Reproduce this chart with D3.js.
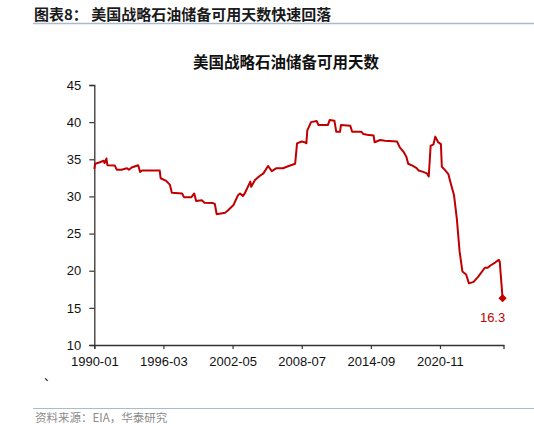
<!DOCTYPE html>
<html>
<head>
<meta charset="utf-8">
<script src="https://cdn.jsdelivr.net/npm/d3@7"></script>
<style>
  body { margin: 0; background: #fff; }
  svg { display: block; }
</style>
</head>
<body>
<svg></svg>
<script>
// 美国战略石油储备可用天数 (category axis, one step per period)

// tick labels sit every 74 periods
const tickLabels = ['1990-01', '1996-03', '2002-05', '2008-07', '2014-09', '2020-11'];
const tickIdx = [0, 74, 148, 222, 296, 370];
const LAST_IDX = 438;

// period index of each read-off point
const pointIdx = [0, 1, 6, 10, 11, 13, 14, 22, 24, 29, 35, 37, 40, 47, 49, 51, 70, 71, 77, 81,
  83, 94, 96, 104, 107, 109, 115, 118, 127, 129, 131, 140, 143, 149, 154, 156, 159, 161, 167, 168,
  172, 177, 181, 186, 190, 195, 202, 206, 215, 217, 222, 225, 227, 228, 232, 238, 240, 250, 252, 257,
  259, 263, 264, 274, 276, 286, 288, 292, 299, 300, 306, 311, 324, 327, 331, 334, 336, 341, 345, 347,
  352, 356, 358, 360, 363, 365, 368, 371, 372, 375, 379, 382, 385, 388, 391, 394, 398, 401, 406, 411,
  418, 421, 424, 429, 433, 434, 437];

// days of cover
const days = [33.7, 34.4, 34.6, 34.8, 34.5, 35.1, 34.2, 34.15, 33.6, 33.6, 33.8, 33.6, 33.9, 34.2, 33.3, 33.5, 33.5, 32.45, 32.1, 31.55,
  30.5, 30.4, 29.9, 29.9, 30.4, 29.4, 29.5, 29.15, 29.1, 29.0, 27.6, 27.8, 28.1, 28.85, 30.2, 30.4, 30.05, 30.4, 32.0, 31.3,
  32.2, 32.75, 33.1, 34.1, 33.4, 33.8, 33.8, 34.0, 34.4, 37.15, 37.4, 37.3, 37.15, 38.9, 40.0, 40.15, 39.6, 39.6, 40.3, 40.2,
  38.7, 38.7, 39.6, 39.5, 38.7, 38.7, 38.4, 38.3, 38.2, 37.3, 37.6, 37.5, 37.4, 36.6, 36.0, 35.35, 34.4, 34.1, 33.8, 33.5,
  33.3, 33.1, 32.7, 36.8, 37.0, 38.05, 37.3, 37.05, 34.0, 33.6, 33.0, 31.55, 30.2, 27.06, 22.6, 19.9, 19.5, 18.3, 18.5, 19.2,
  20.4, 20.4, 20.7, 21.1, 21.45, 21.2, 16.3];

const yTicks = [10, 15, 20, 25, 30, 35, 40, 45];

const WIDTH = 534;
const HEIGHT = 424;
const PLOT_LEFT = 94.3;
const PLOT_RIGHT = 503.5;
const PLOT_TOP = 85;
const PLOT_BOTTOM = 345;
const RED = '#c00000';
const RULE = '#aabbd0';
const LATIN = '"Liberation Sans", Arial, sans-serif';
const CJK = '"Noto Sans CJK SC", sans-serif';

const svg = d3.select('svg').
attr('width', WIDTH).
attr('height', HEIGHT);

svg.append('rect').
attr('width', WIDTH).
attr('height', HEIGHT).
attr('fill', '#fff');

// header + rules
svg.append('text').
attr('x', 34).
attr('y', 19.5).
attr('font-family', CJK).
attr('font-weight', 700).
attr('font-size', 15).
attr('fill', '#1a1a1a').
text('图表8：  美国战略石油储备可用天数快速回落');

svg.append('line').
attr('x1', 33).attr('x2', WIDTH).
attr('y1', 23.5).attr('y2', 23.5).
attr('stroke', RULE).
attr('stroke-width', 1.5);

svg.append('line').
attr('x1', 33).attr('x2', WIDTH).
attr('y1', 408.5).attr('y2', 408.5).
attr('stroke', RULE).
attr('stroke-width', 1);

svg.append('text').
attr('x', 35).
attr('y', 422).
attr('font-family', CJK).
attr('font-size', 11.5).
attr('fill', '#8c8c8c').
text('资料来源：EIA，华泰研究');

svg.append('text').
attr('x', 44).
attr('y', 381).
attr('font-family', CJK).
attr('font-size', 12).
attr('fill', '#222').
text('、');

// chart title
svg.append('text').
attr('x', 286).
attr('y', 67.5).
attr('text-anchor', 'middle').
attr('font-family', CJK).
attr('font-weight', 700).
attr('font-size', 15.5).
attr('fill', '#111').
text('美国战略石油储备可用天数');

const x = d3.scaleLinear().
domain([0, LAST_IDX]).
range([PLOT_LEFT, PLOT_RIGHT]);

const y = d3.scaleLinear().
domain([10, 45]).
range([PLOT_BOTTOM, PLOT_TOP]);

const yAxis = d3.axisLeft(y).
tickValues(yTicks).
tickSizeOuter(0).
tickSize(5).
tickPadding(8);

const xAxis = d3.axisBottom(x).
tickValues(tickIdx).
tickFormat(d => tickLabels[tickIdx.indexOf(d)]).
tickSizeOuter(0).
tickSize(4).
tickPadding(8);

const yG = svg.append('g').
attr('transform', `translate(${PLOT_LEFT}, 0)`).
call(yAxis);

const xG = svg.append('g').
attr('transform', `translate(0, ${PLOT_BOTTOM})`).
call(xAxis);

[yG, xG].forEach(g => {
  g.select('.domain').attr('stroke', '#333').attr('stroke-width', 1.3);
  g.selectAll('.tick line').attr('stroke', '#333').attr('stroke-width', 1.2);
  g.selectAll('.tick text').
  attr('font-family', LATIN).
  attr('font-size', 13).
  attr('fill', '#111');
});

// series
const series = pointIdx.map((i, k) => ({ i: i, v: days[k] }));

const line = d3.line().
x(d => x(d.i)).
y(d => y(d.v));

svg.append('path').
datum(series).
attr('d', line).
attr('fill', 'none').
attr('stroke', RED).
attr('stroke-width', 2).
attr('stroke-linejoin', 'round');

const last = series[series.length - 1];

svg.append('path').
attr('d', d3.symbol(d3.symbolSquare, 34)()).
attr('transform', `translate(${x(last.i)}, ${y(last.v)}) rotate(45)`).
attr('fill', RED);

svg.append('text').
attr('x', x(last.i) - 10).
attr('y', y(last.v) + 24).
attr('text-anchor', 'middle').
attr('font-family', LATIN).
attr('font-size', 13).
attr('fill', RED).
text(last.v.toFixed(1));
</script>
</body>
</html>
